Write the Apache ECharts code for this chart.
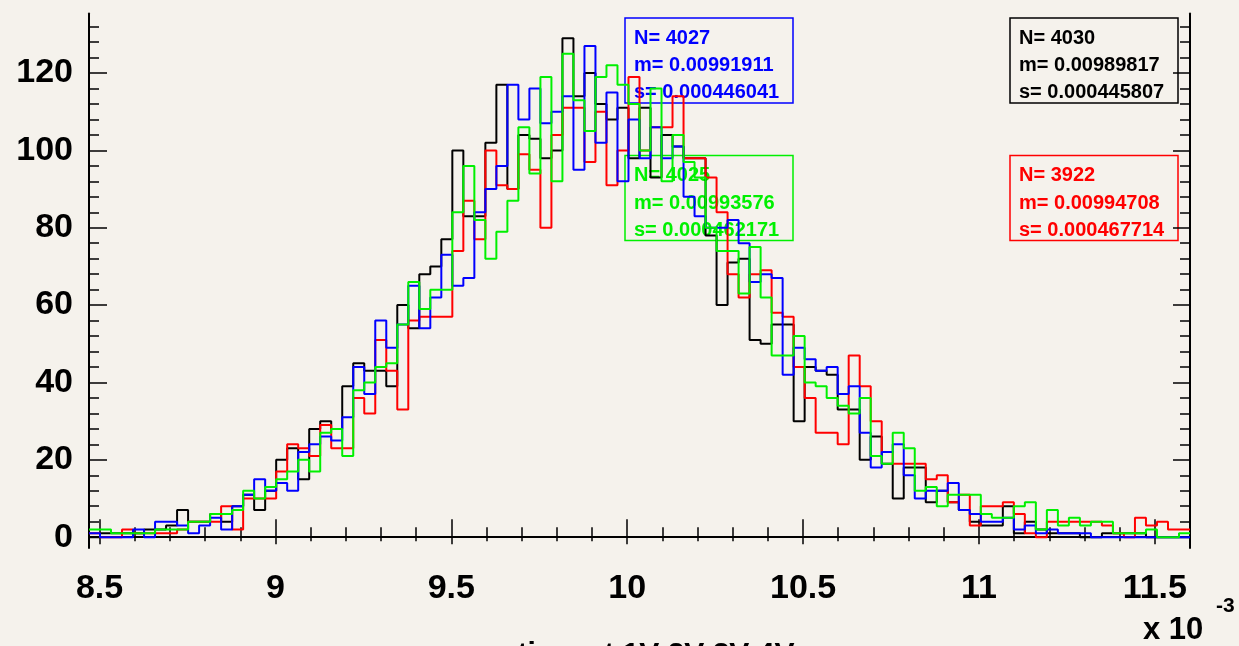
<!DOCTYPE html>
<html><head><meta charset="utf-8">
<script src="https://cdn.jsdelivr.net/npm/echarts@6/dist/echarts.min.js"></script>
<style>html,body{margin:0;padding:0;background:#f5f2ec;overflow:hidden}#c{width:1239px;height:646px}</style>
</head><body><div id="c"></div>
<script>
// ---- data (x in units of 1e-3) ----
const BIN_LO = 8.47;
const BIN_W = 0.0313;
const X_MIN = 8.47, X_MAX = 11.60;
const Y_MIN = -2.8, Y_MAX = 135.4;
const xMajorTicks = [8.5, 9, 9.5, 10, 10.5, 11, 11.5];
const xMinorTicks = [8.5,8.6,8.7,8.8,8.9,9.0,9.1,9.2,9.3,9.4,9.5,9.6,9.7,9.8,9.9,10.0,10.1,10.2,10.3,10.4,10.5,10.6,10.7,10.8,10.9,11.0,11.1,11.2,11.3,11.4,11.5,11.6];
const yMajorTicks = [0, 20, 40, 60, 80, 100, 120];
const yMinorTicks = [0,4,8,12,16,20,24,28,32,36,40,44,48,52,56,60,64,68,72,76,80,84,88,92,96,100,104,108,112,116,120,124,128,132];

const blackCounts = [0,1,1,1,1,2,2,3,7,4,4,6,4,8,11,7,12,
  20,23,15,28,30,28,39,45,43,43,39,60,54,68,70,77,100,
  83,83,102,117,90,104,103,98,100,129,114,120,112,108,111,
  98,111,93,104,101,98,98,78,60,71,
  72,51,50,55,55,30,44,
  43,42,33,33,20,26,19,10,18,18,9,12,9,7,4,3,
  3,8,1,4,2,1,1,1,0,0,1,1,1,1,0,0,0,0];
const blueCounts = [1,0,0,0,2,0,4,4,3,1,3,5,2,8,11,15,12,
  14,12,22,24,26,25,31,44,37,56,49,55,65,54,62,73,65,
  67,84,90,96,117,108,116,107,110,114,95,127,102,115,92,
  108,98,106,98,101,88,83,80,80,82,
  76,66,68,67,42,49,46,
  43,44,37,39,27,18,22,24,16,10,12,12,14,7,6,4,
  4,5,2,3,1,2,1,1,1,0,0,0,0,0,0,0,0,0];
const redCounts = [1,0,0,2,1,1,1,1,2,4,4,4,8,2,10,10,10,
  17,24,23,21,29,23,23,36,32,51,43,33,56,57,57,57,74,
  87,77,100,91,90,99,95,80,104,111,111,97,110,91,100,
  119,100,106,106,114,98,98,93,84,68,
  62,68,69,58,57,44,36,
  27,27,24,47,39,30,22,19,19,19,15,16,9,11,3,8,
  8,9,6,1,0,4,4,4,4,4,3,1,0,5,3,4,2,2];
const greenCounts = [2,2,1,1,1,1,2,2,2,4,4,6,6,7,12,10,13,
  15,17,20,17,27,28,21,38,40,44,45,55,66,59,64,64,84,
  96,82,72,79,87,106,94,119,92,125,113,105,119,122,117,
  112,100,116,92,104,97,93,80,74,74,
  63,75,62,47,47,52,40,
  39,36,34,32,36,21,19,27,23,12,13,8,11,11,11,6,
  5,5,8,9,2,7,3,5,3,4,4,1,1,1,2,0,0,1];

const stats = [
  {name:'black', color:'#000000', N:'4030', m:'0.00989817', s:'0.000445807'},
  {name:'blue',  color:'#0000ff', N:'4027', m:'0.00991911', s:'0.000446041'},
  {name:'red',   color:'#ff0000', N:'3922', m:'0.00994708', s:'0.000467714'},
  {name:'green', color:'#00f000', N:'4025', m:'0.00993576', s:'0.000462171'}
];

// ---- build ----
function histPoints(vals){
  const pts = vals.map((v,i)=>[BIN_LO + i*BIN_W, v]);
  pts.push([BIN_LO + vals.length*BIN_W, vals[vals.length-1]]);
  return pts;
}
const FONT = 'Liberation Sans, Arial, Helvetica, sans-serif';
const chart = echarts.init(document.getElementById('c'), null, {renderer:'canvas'});
const axLine = {show:true, lineStyle:{color:'#000', width:2}};
const tickStyle = {color:'#000', width:1.5};
function xAx(pos, len, vals, labels, line){
  return {type:'value', min:X_MIN, max:X_MAX, position:pos,
    axisLine: line ? axLine : {show:false},
    axisTick:{show:true, inside:true, length:len, customValues:vals, lineStyle:tickStyle},
    axisLabel: labels ? {show:true, customValues:vals, margin:24, fontSize:34, fontWeight:'bold', fontFamily:FONT, color:'#000',
      formatter:v=>String(Math.round(v*10)/10)} : {show:false},
    splitLine:{show:false}};
}
function yAx(pos, len, vals, labels, line){
  return {type:'value', min:Y_MIN, max:Y_MAX, position:pos,
    axisLine: line ? axLine : {show:false},
    axisTick:{show:true, inside:true, length:len, customValues:vals, lineStyle:tickStyle},
    axisLabel: labels ? {show:true, customValues:vals, margin:16, fontSize:34, fontWeight:'bold', fontFamily:FONT, color:'#000',
      formatter:v=>String(Math.round(v))} : {show:false},
    splitLine:{show:false}};
}
function series(vals, color, z){
  return {type:'line', xAxisIndex:0, yAxisIndex:0, step:'end', data:histPoints(vals), symbol:'none',
    lineStyle:{color:color, width:2}, itemStyle:{color:color}, z:z, animation:false, silent:true};
}
function statBox(st, x, y){
  const w = 168, h = 85;
  return {type:'group', x:x, y:y, z:1, children:[
    {type:'rect', shape:{x:0,y:0,width:w,height:h}, style:{fill:'none', stroke:st.color, lineWidth:1.5}},
    {type:'text', x:9, y:20, style:{text:'N= '+st.N, fill:st.color, font:'bold 20px '+FONT, textVerticalAlign:'middle'}},
    {type:'text', x:9, y:47.5, style:{text:'m= '+st.m, fill:st.color, font:'bold 20px '+FONT, textVerticalAlign:'middle'}},
    {type:'text', x:9, y:74.5, style:{text:'s= '+st.s, fill:st.color, font:'bold 20px '+FONT, textVerticalAlign:'middle'}}
  ]};
}
chart.setOption({
  backgroundColor:'#f5f2ec',
  animation:false,
  grid:{left:89, right:49, top:13.5, bottom:98, containLabel:false},
  xAxis:[
    xAx('bottom', 18, xMajorTicks, true, true),
    xAx('bottom', 10, xMinorTicks, false, false),
    xAx('top', 7, xMajorTicks, false, true),
    xAx('top', 4, xMinorTicks, false, false)
  ],
  yAxis:[
    yAx('left', 18, yMajorTicks, true, true),
    yAx('left', 10, yMinorTicks, false, false),
    yAx('right', 17, yMajorTicks, false, true),
    yAx('right', 10, yMinorTicks, false, false)
  ],
  series:[
    series(blackCounts, '#000000', 2),
    series(redCounts, '#ff0000', 3),
    series(blueCounts, '#0000ff', 4),
    series(greenCounts, '#00f000', 5)
  ],
  graphic:[
    statBox(stats[1], 625, 18),
    statBox(stats[3], 625, 155.5),
    statBox(stats[0], 1010, 18),
    statBox(stats[2], 1010, 155.5),
    {type:'text', x:1143, y:630, style:{text:'x 10', fill:'#000', font:'bold 31px '+FONT, textVerticalAlign:'middle'}},
    {type:'text', x:1216, y:606, style:{text:'-3', fill:'#000', font:'bold 21px '+FONT, textVerticalAlign:'middle'}},
    {type:'text', x:656, y:640, style:{text:'time at 1V 2V 3V 4V', fill:'#000', font:'bold 30px '+FONT, textAlign:'center', textVerticalAlign:'top'}}
  ]
});
</script></body></html>
